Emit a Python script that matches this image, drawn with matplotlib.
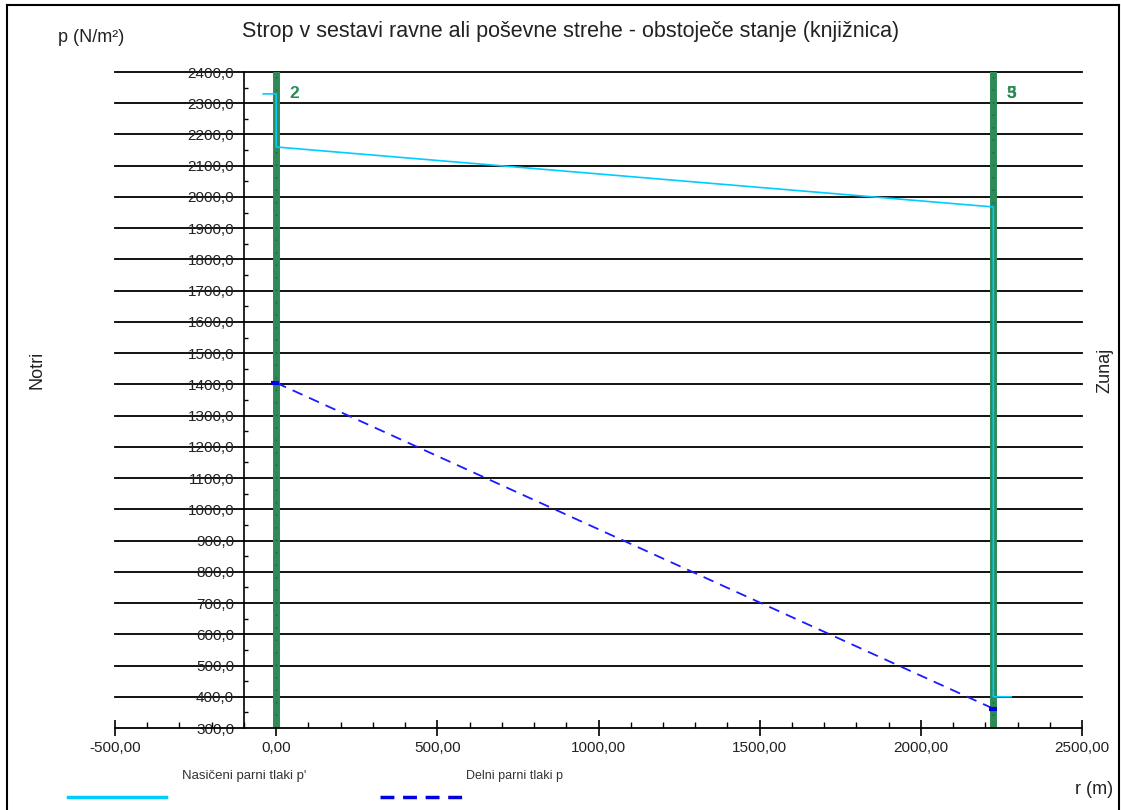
import numpy as np
import matplotlib.pyplot as plt
from matplotlib.lines import Line2D
from matplotlib.ticker import MultipleLocator, FuncFormatter

plt.rcParams['font.family'] = ['Liberation Sans', 'DejaVu Sans']

# saturated vapour pressure p' across the construction
sat_r = [-40, 0, 0, 2225, 2225, 2280]
sat_p = [2330, 2330, 2160, 1968, 400, 400]

# partial vapour pressure p
part_r = [0, 2225]
part_p = [1405, 362]

# layer boundaries and their labels
bound_r = [0, 2225]
bound_lbl = [["2"], ["5", "3"]]

W, H = 1121, 810
fig = plt.figure(figsize=(W / 100, H / 100), dpi=100)

def fx(px):
    return px / W

def fy(py):
    return 1 - py / H

ax = fig.add_axes([fx(115), fy(728), fx(1082) - fx(115), fy(72) - fy(728)])
ax.set_xlim(-500, 2500)
ax.set_ylim(300, 2400)

# horizontal grid lines across the whole plot width
for y in np.arange(400, 2401, 100):
    ax.axhline(y, color='black', lw=1.3, zorder=1, clip_on=False)

for s in ['top', 'right']:
    ax.spines[s].set_visible(False)
ax.spines['left'].set_position(('data', -100))
ax.spines['left'].set_linewidth(1.2)
ax.spines['bottom'].set_linewidth(1.3)

ax.yaxis.set_major_locator(MultipleLocator(100))
ax.yaxis.set_minor_locator(MultipleLocator(50))
ax.xaxis.set_major_locator(MultipleLocator(500))
ax.xaxis.set_minor_locator(MultipleLocator(100))
ax.yaxis.set_major_formatter(FuncFormatter(lambda v, p: f"{v:.1f}".replace('.', ',')))
ax.xaxis.set_major_formatter(FuncFormatter(lambda v, p: f"{v:.2f}".replace('.', ',')))
ax.tick_params(axis='y', which='major', length=0, pad=7, labelsize=11, labelcolor='#222222')
ax.tick_params(axis='y', which='minor', direction='in', length=3, width=1)
ax.tick_params(axis='x', which='major', direction='inout', length=11, width=1.2, pad=4,
               labelsize=11, labelcolor='#222222')
ax.tick_params(axis='x', which='minor', direction='in', length=4, width=1)

# layer boundaries
for r, lbls in zip(bound_r, bound_lbl):
    ax.axvline(r, color='#2e8b57', lw=5, zorder=2)
    ax.axvline(r, color='#1f5a3a', lw=1, ls=(0, (1, 8)), zorder=2)
    for t in lbls:
        ax.text(r + 40, 2330, t, color='#2e8b57', fontsize=12.5, fontweight='bold',
                va='center', ha='left', zorder=3)

ax.plot(sat_r, sat_p, color='#00ccff', lw=1.2, zorder=4)
ax.plot(part_r, part_p, color='#1a1aff', lw=1.3, ls=(0, (6, 4)), zorder=4)
# solid end caps of the partial pressure line
ax.plot([part_r[0] - 15, part_r[0] + 8], [part_p[0]] * 2, color='#0000e0', lw=3, zorder=5,
        solid_capstyle='butt')
ax.plot([part_r[1] - 15, part_r[1] + 12], [part_p[1]] * 2, color='#0000e0', lw=3, zorder=5,
        solid_capstyle='butt')

fig.text(fx(571), fy(32), "Strop v sestavi ravne ali poševne strehe - obstoječe stanje (knjižnica)",
         ha='center', va='center', fontsize=15.5, color='#222222')
fig.text(fx(91), fy(38), "p (N/m²)", ha='center', va='center', fontsize=13, color='#222222')
fig.text(fx(37), fy(370), "Notri", rotation=90, ha='center', va='center', fontsize=13, color='#222222')
fig.text(fx(1105), fy(370), "Zunaj", rotation=90, ha='center', va='center', fontsize=13, color='#222222')
fig.text(fx(1094), fy(790), "r (m)", ha='center', va='center', fontsize=13, color='#222222')

# legend below the axes
fig.text(fx(244), fy(776), "Nasičeni parni tlaki p'", ha='center', va='center', fontsize=9.5, color='#333333')
fig.text(fx(515), fy(776), "Delni parni tlaki p", ha='center', va='center', fontsize=9, color='#333333')
fig.add_artist(Line2D([fx(68), fx(166)], [fy(797)] * 2, color='#00ccff', lw=2.5))
fig.add_artist(Line2D([fx(380), fx(465)], [fy(797)] * 2, color='#0000e0', lw=2.5,
                      ls=(0, (4, 2.5))))

# frame around the figure
fig.add_artist(Line2D([fx(7), fx(7)], [0, fy(5)], color='black', lw=1.5))
fig.add_artist(Line2D([fx(7), fx(1119)], [fy(5), fy(5)], color='black', lw=1.5))
fig.add_artist(Line2D([fx(1119), fx(1119)], [0, fy(5)], color='black', lw=1.5))

fig.savefig('out.png', dpi=100)
